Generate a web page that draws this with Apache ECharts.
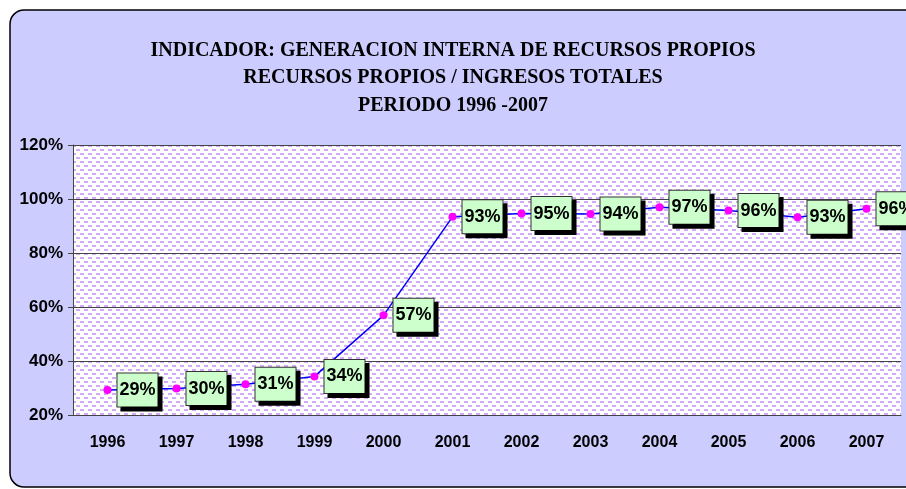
<!DOCTYPE html>
<html lang="es">
<head>
    <meta charset="UTF-8">
    <script src="https://cdn.jsdelivr.net/npm/echarts@6/dist/echarts.min.js"></script>
    <title>Recursos propios / ingresos totales</title>
    <style>
        body { margin: 0; background: #fff; }
    </style>
</head>
<body>
<div id="main" style="width: 906px;height:489px;"></div>
<script type="text/javascript">
    // datos del grafico
    var years = ['1996', '1997', '1998', '1999', '2000', '2001', '2002', '2003', '2004', '2005', '2006', '2007'];
    var ratio = [29.3, 29.8, 31.4, 34.3, 56.9, 93.4, 94.6, 94.4, 96.9, 95.7, 93.2, 96.4];
    var yTicks = [20, 40, 60, 80, 100, 120];
    var titleLines = [
        'INDICADOR: GENERACION INTERNA DE RECURSOS PROPIOS',
        'RECURSOS PROPIOS / INGRESOS TOTALES',
        'PERIODO 1996 -2007'
    ];

    // trama de puntos del area de trazado
    var tile = document.createElement('canvas');
    tile.width = 8;
    tile.height = 8;
    var tc = tile.getContext('2d');
    tc.fillStyle = '#ffffff';
    tc.fillRect(0, 0, 8, 8);
    tc.fillStyle = '#d2aaf8';
    tc.fillRect(0, 1, 4, 2);
    tc.fillRect(4, 5, 4, 2);

    var myChart = echarts.init(document.getElementById('main'));

    var option = {
        animation: false,
        graphic: [{
            type: 'rect',
            z: -10,
            shape: { x: 10, y: 10, width: 940, height: 477, r: 14 },
            style: { fill: '#ccccff', stroke: '#000', lineWidth: 1.5 }
        }],
        title: {
            text: titleLines.join('\n'),
            left: 'center',
            top: 32,
            textStyle: {
                fontFamily: 'Liberation Serif',
                fontWeight: 'bold',
                fontSize: 20,
                lineHeight: 27.5,
                color: '#000'
            }
        },
        grid: {
            left: 73,
            right: 5,
            top: 145,
            bottom: 74,
            show: true,
            borderWidth: 0,
            backgroundColor: { image: tile, repeat: 'repeat' }
        },
        xAxis: {
            type: 'category',
            data: years,
            axisLine: { lineStyle: { color: '#444', width: 1 } },
            axisTick: { length: 5, lineStyle: { color: '#444' } },
            axisLabel: {
                margin: 20,
                fontFamily: 'Liberation Sans',
                fontWeight: 'bold',
                fontSize: 16,
                color: '#000'
            }
        },
        yAxis: {
            type: 'value',
            min: yTicks[0],
            max: yTicks[yTicks.length - 1],
            interval: 20,
            axisLine: { show: true, lineStyle: { color: '#444', width: 1 } },
            axisTick: { show: true, length: 5, lineStyle: { color: '#444' } },
            splitLine: { lineStyle: { color: '#444', width: 1 } },
            axisLabel: {
                formatter: '{value}%',
                margin: 10,
                fontFamily: 'Liberation Sans',
                fontWeight: 'bold',
                fontSize: 17,
                color: '#000'
            }
        },
        series: [{
            type: 'line',
            data: ratio,
            symbol: 'circle',
            symbolSize: 8,
            lineStyle: { color: '#0000ff', width: 1.5 },
            itemStyle: { color: '#ff00ff' },
            label: {
                show: true,
                position: 'right',
                distance: 6,
                formatter: function (p) { return Math.round(p.value) + '%'; },
                fontFamily: 'Liberation Sans',
                fontWeight: 'bold',
                fontSize: 18,
                lineHeight: 18,
                color: '#000',
                backgroundColor: '#ccffcc',
                borderColor: '#333',
                borderWidth: 1,
                padding: [8, 2, 7, 2],
                shadowColor: '#000',
                shadowBlur: 0,
                shadowOffsetX: 4,
                shadowOffsetY: 4
            }
        }]
    };

    myChart.setOption(option);
</script>
</body>
</html>
